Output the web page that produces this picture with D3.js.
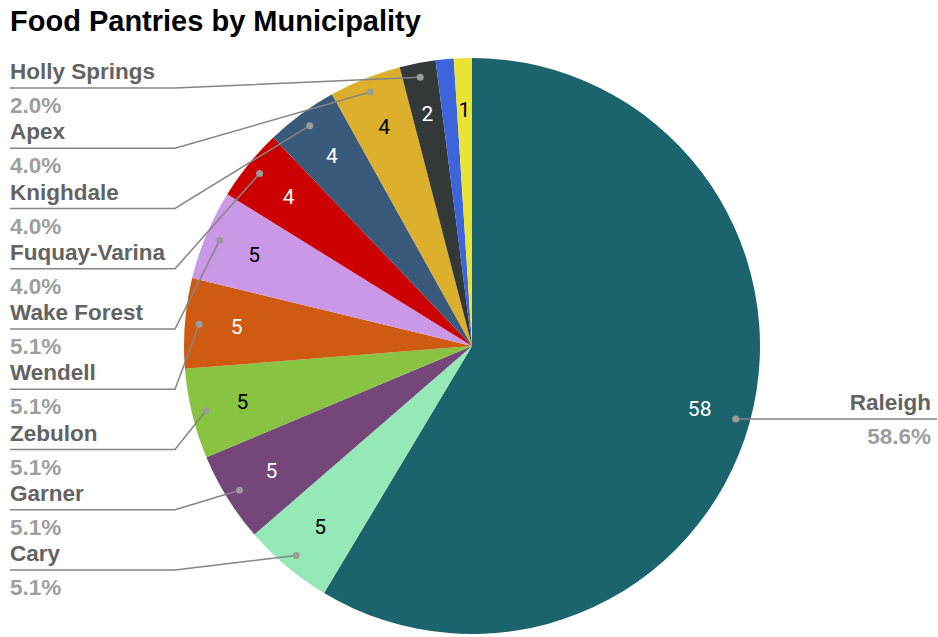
<!DOCTYPE html>
<html>
<head>
<meta charset="utf-8">
<script src="https://cdn.jsdelivr.net/npm/d3@7"></script>
<style>
  html, body { margin: 0; padding: 0; background: #fff; }
  svg { display: block; font-family: "Liberation Sans", Arial, sans-serif; }
</style>
</head>
<body>
<svg id="chart" width="938" height="637"></svg>
<script>
// Food pantry counts per Wake County municipality (clockwise from 12 o'clock)
const municipalities = ["Raleigh", "Cary", "Garner", "Zebulon", "Wendell", "Wake Forest",
  "Fuquay-Varina", "Knighdale", "Apex", "Holly Springs", "Morrisville", "Rolesville"];
const pantries = [58, 5, 5, 5, 5, 5, 4, 4, 4, 2, 1, 1];
const sliceColors = ["#1b646e", "#95e9b6", "#744679", "#88c442", "#cf5b13", "#cb98e7",
  "#cc0000", "#3a5a7b", "#dcb02c", "#333839", "#3c64db", "#ebe334"];
// municipalities listed in the left-hand legend column, top to bottom
const leftLabels = ["Holly Springs", "Apex", "Knighdale", "Fuquay-Varina", "Wake Forest",
  "Wendell", "Zebulon", "Garner", "Cary"];
const rightLabels = ["Raleigh"];

const data = municipalities.map((name, i) => ({ name, value: pantries[i], color: sliceColors[i] }));
const total = d3.sum(pantries);
const pctFmt = d3.format(".1%");

const svg = d3.select("#chart");
const cx = 472, cy = 346, R = 288;

svg.append("text")
  .attr("x", 10).attr("y", 31)
  .attr("font-size", 29).attr("font-weight", "bold").attr("fill", "#000")
  .text("Food Pantries by Municipality");

const pie = d3.pie().value(d => d.value).sort(null);
const arcs = pie(data);
const arc = d3.arc().innerRadius(0).outerRadius(R);
const labelArc = d3.arc().innerRadius(R * 0.82).outerRadius(R * 0.82);
const dotArc = d3.arc().innerRadius(R * 0.95).outerRadius(R * 0.95);

const g = svg.append("g").attr("transform", `translate(${cx},${cy})`);

g.selectAll("path.slice").data(arcs).join("path")
  .attr("class", "slice")
  .attr("d", arc)
  .attr("fill", d => d.data.color);

// value labels inside slices; the thin blue slice gets none
function textColor(c) {
  const { r, g: gg, b } = d3.rgb(c);
  return (0.299 * r + 0.587 * gg + 0.114 * b) > 150 ? "#000" : "#fff";
}
g.selectAll("text.val").data(arcs.filter(d => d.data.name !== "Morrisville")).join("text")
  .attr("class", "val")
  .attr("transform", d => `translate(${labelArc.centroid(d)})`)
  .attr("text-anchor", "middle").attr("dominant-baseline", "central")
  .attr("font-family", "Roboto, 'Noto Sans', sans-serif")
  .attr("font-size", 21)
  .attr("fill", d => textColor(d.data.color))
  .text(d => d.data.value);

// leader lines and side labels
const lineColor = "#858585";
const nameColor = "#636363";
const pctColor = "#9e9e9e";
const elbowX = 175, leftX = 10, rightX = 937, rightTextX = 931;
const rowTop = 88, rowStep = 60.25;
const labelSize = 22.5;

leftLabels.forEach((name, i) => {
  const a = arcs.find(d => d.data.name === name);
  const [dx, dy] = dotArc.centroid(a);
  const px = cx + dx, py = cy + dy;
  const ly = rowTop + i * rowStep;
  svg.append("polyline")
    .attr("points", `${leftX},${ly} ${elbowX},${ly} ${px},${py}`)
    .attr("fill", "none").attr("stroke", lineColor).attr("stroke-width", 1.5);
  svg.append("circle").attr("cx", px).attr("cy", py).attr("r", 3.5).attr("fill", "#9a9a9a");
  svg.append("text").attr("x", leftX).attr("y", ly - 9)
    .attr("font-size", labelSize).attr("font-weight", "bold").attr("fill", nameColor).text(name);
  svg.append("text").attr("x", leftX).attr("y", ly + 25)
    .attr("font-size", labelSize).attr("font-weight", "bold").attr("fill", pctColor)
    .text(pctFmt(a.data.value / total));
});

rightLabels.forEach(name => {
  const a = arcs.find(d => d.data.name === name);
  const [dx, dy] = dotArc.centroid(a);
  const px = cx + dx, py = cy + dy;
  svg.append("line").attr("x1", px).attr("y1", py).attr("x2", rightX).attr("y2", py)
    .attr("stroke", lineColor).attr("stroke-width", 1.5);
  svg.append("circle").attr("cx", px).attr("cy", py).attr("r", 3.5).attr("fill", "#9a9a9a");
  svg.append("text").attr("x", rightTextX).attr("y", py - 9).attr("text-anchor", "end")
    .attr("font-size", labelSize).attr("font-weight", "bold").attr("fill", nameColor).text(name);
  svg.append("text").attr("x", rightTextX).attr("y", py + 25).attr("text-anchor", "end")
    .attr("font-size", labelSize).attr("font-weight", "bold").attr("fill", pctColor)
    .text(pctFmt(a.data.value / total));
});
</script>
</body>
</html>
